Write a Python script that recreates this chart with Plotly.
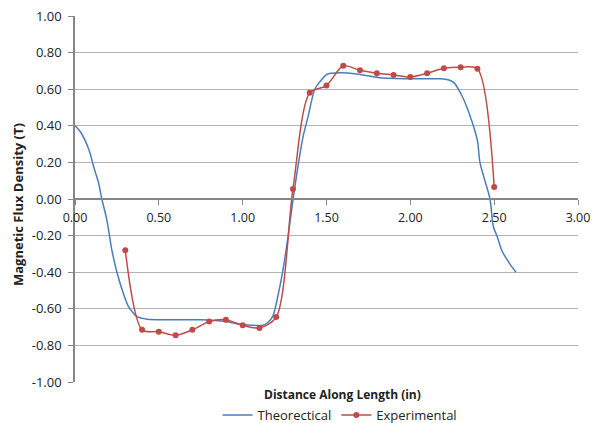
import plotly.graph_objects as go

# Theoretical curve
theo_x = [0.00, 0.03, 0.06, 0.09, 0.11, 0.14, 0.16, 0.19, 0.22, 0.25, 0.29, 0.32, 0.34, 0.37, 0.43,
          0.55, 0.75, 0.90, 0.98, 1.05, 1.12, 1.15, 1.18, 1.21, 1.24, 1.27, 1.30, 1.33, 1.36, 1.39,
          1.43, 1.46, 1.50, 1.53, 1.59, 1.68, 1.82, 2.02, 2.18, 2.23, 2.26, 2.31, 2.35, 2.40, 2.415,
          2.445, 2.475, 2.495, 2.52, 2.545, 2.59, 2.63]
theo_y = [0.40, 0.37, 0.32, 0.25, 0.18, 0.09, 0.00, -0.115, -0.28, -0.40, -0.52, -0.59, -0.615, -0.643, -0.657,
          -0.66, -0.66, -0.67, -0.685, -0.69, -0.69, -0.675, -0.64, -0.53, -0.39, -0.21, -0.005, 0.18, 0.34, 0.45,
          0.60, 0.64, 0.68, 0.687, 0.69, 0.683, 0.663, 0.657, 0.657, 0.65, 0.636, 0.56, 0.47, 0.32, 0.20,
          0.10, 0.0, -0.15, -0.21, -0.28, -0.35, -0.40]

# Experimental measurements
exp_x = [0.3, 0.4, 0.5, 0.6, 0.7, 0.8, 0.9, 1.0, 1.1, 1.2, 1.3, 1.4, 1.5, 1.6, 1.7, 1.8, 1.9, 2.0,
         2.1, 2.2, 2.3, 2.4, 2.5]
exp_y = [-0.28, -0.715, -0.725, -0.745, -0.715, -0.67, -0.66, -0.69, -0.705, -0.645, 0.055, 0.58, 0.62,
         0.728, 0.703, 0.687, 0.678, 0.667, 0.687, 0.714, 0.72, 0.712, 0.066]

x_ticks = [0, 0.5, 1.0, 1.5, 2.0, 2.5, 3.0]
y_ticks = [-1.0, -0.8, -0.6, -0.4, -0.2, 0.0, 0.2, 0.4, 0.6, 0.8, 1.0]
x_tick_labels = [f"{v:.2f}" for v in x_ticks]
y_tick_labels = [f"{v:.2f}" for v in y_ticks]

FONT = "Open Sans, sans-serif"

fig = go.Figure()
fig.add_trace(go.Scatter(x=theo_x, y=theo_y, mode="lines", name="Theorectical",
                         line=dict(color="#4a7ebb", width=1.5, shape="spline", smoothing=0.8)))
fig.add_trace(go.Scatter(x=exp_x, y=exp_y, mode="lines+markers", name="Experimental",
                         line=dict(color="#be4b48", width=1.5, shape="spline", smoothing=0.8),
                         marker=dict(color="#be4b48", size=6)))

fig.update_layout(
    width=592, height=423,
    margin=dict(l=75, r=14, t=16, b=41, autoexpand=False),
    paper_bgcolor="white", plot_bgcolor="white",
    font=dict(family=FONT, size=13, color="#222222"),
    showlegend=True,
    legend=dict(orientation="h", x=0.527, xanchor="center", y=-0.09, yanchor="middle",
                font=dict(size=13), tracegroupgap=0),
    xaxis=dict(range=[0, 3], tickvals=x_ticks, ticktext=x_tick_labels, ticklabeloverflow="allow",
               showgrid=False, zeroline=False, showline=True, linecolor="#868686", linewidth=1.5,
               ticks="outside", ticklen=5, tickcolor="#868686", automargin=False,
               ticklabelstandoff=2,
               anchor="free", position=0.5, tickfont=dict(size=12.5, family=FONT)),
    yaxis=dict(range=[-1, 1], tickvals=y_ticks, ticktext=y_tick_labels, automargin=False,
               ticklabeloverflow="allow", ticklabelstandoff=4,
               showgrid=True, gridcolor="#b3b3b3", gridwidth=1, zeroline=False,
               showline=True, linecolor="#868686", linewidth=1.5,
               ticks="outside", ticklen=5, tickcolor="#868686",
               tickfont=dict(size=13, family=FONT)),
    annotations=[
        dict(text="<b>Distance Along Length (in)</b>", xref="paper", yref="paper",
             x=0.531, y=-0.035, xanchor="center", yanchor="middle", showarrow=False,
             font=dict(size=12, family=FONT)),
        dict(text="<b>Magnetic Flux Density (T)</b>", xref="paper", yref="paper",
             x=-0.113, y=0.484, xanchor="center", yanchor="middle", showarrow=False,
             textangle=-90, font=dict(size=13, family=FONT)),
    ],
)

# remove the browser's default 8px body margin so the figure fills the window exactly
fig.write_html("out.html", config={"displayModeBar": False},
               post_script="document.body.style.margin='0';document.body.style.overflow='hidden';")
